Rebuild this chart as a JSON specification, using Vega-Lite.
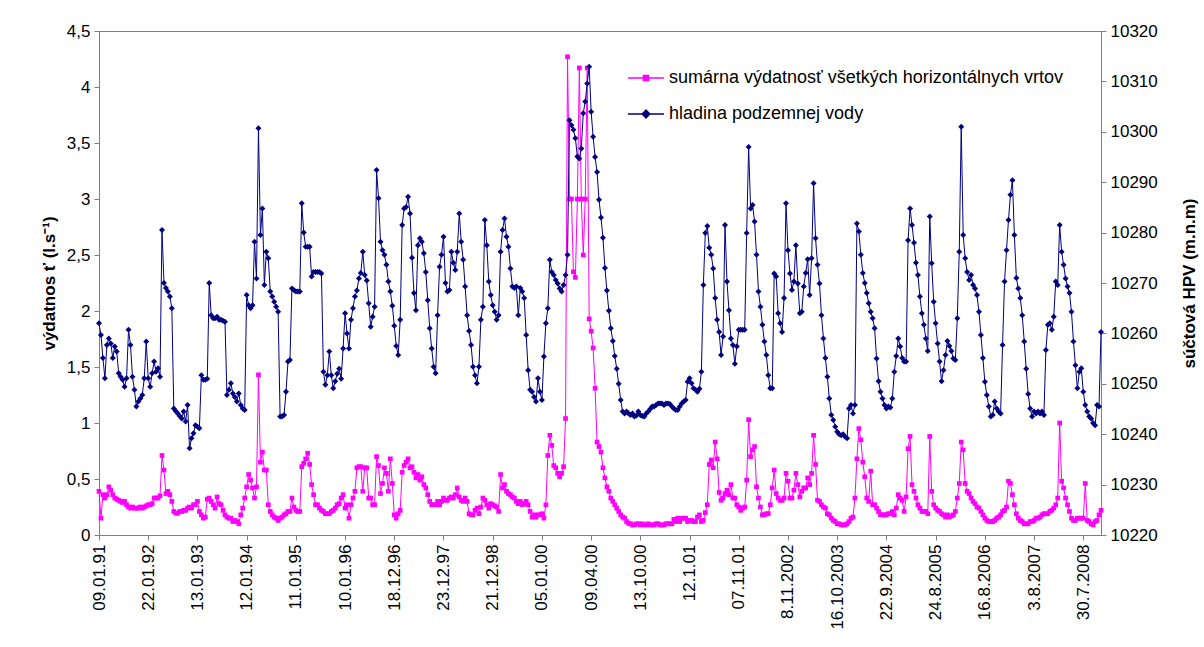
{
"$schema":"https://vega.github.io/schema/vega-lite/v6.json",
"width":1002,"height":504,
"autosize":{"type":"none"},
"padding":{"left":99,"top":31,"right":103,"bottom":112},
"background":"white",
"config":{"view":{"stroke":"#808080","strokeWidth":1},"font":"Liberation Sans",
"axis":{"grid":false,"domainColor":"#808080","tickColor":"#808080","labelColor":"#000","labelFont":"Liberation Sans","labelFontSize":17,"titleFont":"Liberation Sans","titleFontSize":17,"titleFontWeight":"bold","titleColor":"#000","tickSize":5}},
"data":{"values":[
{"i":0,"q":0.39,"h":10262},{"i":1,"q":0.15,"h":10259.7},{"i":2,"q":0.36,"h":10255.1},{"i":3,"q":0.33,"h":10251.1},{"i":4,"q":0.36,"h":10257.7},{"i":5,"q":0.43,"h":10259},{"i":6,"q":0.4,"h":10258},{"i":7,"q":0.36,"h":10255.1},{"i":8,"q":0.33,"h":10257.4},{"i":9,"q":0.32,"h":10256.4},
{"i":10,"q":0.31,"h":10252.1},{"i":11,"q":0.3,"h":10251.4},{"i":12,"q":0.29,"h":10250.8},{"i":13,"q":0.3,"h":10249.4},{"i":14,"q":0.27,"h":10251.1},{"i":15,"q":0.25,"h":10260.7},{"i":16,"q":0.24,"h":10257.7},{"i":17,"q":0.25,"h":10251.4},{"i":18,"q":0.24,"h":10248.8},{"i":19,"q":0.24,"h":10245.5},
{"i":20,"q":0.24,"h":10246.5},{"i":21,"q":0.25,"h":10247.1},{"i":22,"q":0.24,"h":10247.8},{"i":23,"q":0.25,"h":10251.1},{"i":24,"q":0.26,"h":10258.4},{"i":25,"q":0.27,"h":10251.1},{"i":26,"q":0.27,"h":10249.4},{"i":27,"q":0.28,"h":10252.1},{"i":28,"q":0.33,"h":10254.4},{"i":29,"q":0.33,"h":10252.4},
{"i":30,"q":0.33,"h":10253.1},{"i":31,"q":0.35,"h":10251.4},{"i":32,"q":0.71,"h":10280.5},{"i":33,"q":0.58,"h":10270},{"i":34,"q":0.37,"h":10269},{"i":35,"q":0.39,"h":10268.3},{"i":36,"q":0.36,"h":10267.3},{"i":37,"q":0.3,"h":10265},{"i":38,"q":0.21,"h":10245.1},{"i":39,"q":0.195,"h":10244.6},
{"i":40,"q":0.195,"h":10244.1},{"i":41,"q":0.21,"h":10243.6},{"i":42,"q":0.21,"h":10243.1},{"i":43,"q":0.22,"h":10244.5},{"i":44,"q":0.22,"h":10242.5},{"i":45,"q":0.24,"h":10245.8},{"i":46,"q":0.25,"h":10237.2},{"i":47,"q":0.24,"h":10239.2},{"i":48,"q":0.27,"h":10240.2},{"i":49,"q":0.27,"h":10241.8},
{"i":50,"q":0.3,"h":10241.5},{"i":51,"q":0.21,"h":10241.2},{"i":52,"q":0.18,"h":10251.7},{"i":53,"q":0.15,"h":10250.8},{"i":54,"q":0.16,"h":10250.8},{"i":55,"q":0.32,"h":10251},{"i":56,"q":0.33,"h":10270},{"i":57,"q":0.3,"h":10263.6},{"i":58,"q":0.27,"h":10263},{"i":59,"q":0.24,"h":10263},
{"i":60,"q":0.34,"h":10263.3},{"i":61,"q":0.28,"h":10262.7},{"i":62,"q":0.27,"h":10262.7},{"i":63,"q":0.22,"h":10262.5},{"i":64,"q":0.18,"h":10262.3},{"i":65,"q":0.16,"h":10247.8},{"i":66,"q":0.15,"h":10248.8},{"i":67,"q":0.15,"h":10250.1},{"i":68,"q":0.12,"h":10248.1},{"i":69,"q":0.13,"h":10247.4},
{"i":70,"q":0.12,"h":10246.5},{"i":71,"q":0.1,"h":10248.1},{"i":72,"q":0.18,"h":10245.8},{"i":73,"q":0.24,"h":10245.1},{"i":74,"q":0.33,"h":10244.8},{"i":75,"q":0.43,"h":10267.6},{"i":76,"q":0.54,"h":10265.6},{"i":77,"q":0.49,"h":10265},{"i":78,"q":0.42,"h":10265.6},{"i":79,"q":0.33,"h":10278.2},
{"i":80,"q":0.43,"h":10270.9},{"i":81,"q":1.43,"h":10300.7},{"i":82,"q":0.65,"h":10279.5},{"i":83,"q":0.74,"h":10284.8},{"i":84,"q":0.58,"h":10269.6},{"i":85,"q":0.58,"h":10276.2},{"i":86,"q":0.27,"h":10274.9},{"i":87,"q":0.21,"h":10268.3},{"i":88,"q":0.18,"h":10267.3},{"i":89,"q":0.16,"h":10266.3},
{"i":90,"q":0.15,"h":10265.3},{"i":91,"q":0.13,"h":10264.3},{"i":92,"q":0.15,"h":10243.5},{"i":93,"q":0.16,"h":10243.5},{"i":94,"q":0.18,"h":10243.8},{"i":95,"q":0.19,"h":10248.4},{"i":96,"q":0.21,"h":10254.4},{"i":97,"q":0.21,"h":10254.7},{"i":98,"q":0.33,"h":10268.9},{"i":99,"q":0.25,"h":10268.6},
{"i":100,"q":0.22,"h":10268.3},{"i":101,"q":0.21,"h":10268.3},{"i":102,"q":0.21,"h":10268.3},{"i":103,"q":0.61,"h":10285.8},{"i":104,"q":0.64,"h":10280},{"i":105,"q":0.68,"h":10277.2},{"i":106,"q":0.73,"h":10277.2},{"i":107,"q":0.63,"h":10277.2},{"i":108,"q":0.45,"h":10271.3},{"i":109,"q":0.36,"h":10272.2},
{"i":110,"q":0.27,"h":10272.2},{"i":111,"q":0.27,"h":10272.2},{"i":112,"q":0.24,"h":10272.2},{"i":113,"q":0.22,"h":10271.9},{"i":114,"q":0.21,"h":10252.4},{"i":115,"q":0.19,"h":10249.8},{"i":116,"q":0.19,"h":10251.7},{"i":117,"q":0.19,"h":10256.4},{"i":118,"q":0.21,"h":10251.7},{"i":119,"q":0.22,"h":10249.1},
{"i":120,"q":0.24,"h":10250.5},{"i":121,"q":0.27,"h":10252},{"i":122,"q":0.28,"h":10253},{"i":123,"q":0.33,"h":10251},{"i":124,"q":0.36,"h":10257},{"i":125,"q":0.24,"h":10264},{"i":126,"q":0.27,"h":10260},{"i":127,"q":0.15,"h":10257},{"i":128,"q":0.27,"h":10262.7},{"i":129,"q":0.33,"h":10265},
{"i":130,"q":0.39,"h":10267.3},{"i":131,"q":0.6,"h":10268.5},{"i":132,"q":0.61,"h":10270.9},{"i":133,"q":0.61,"h":10272},{"i":134,"q":0.39,"h":10276.2},{"i":135,"q":0.6,"h":10271.6},{"i":136,"q":0.6,"h":10270.5},{"i":137,"q":0.33,"h":10266},{"i":138,"q":0.33,"h":10261.3},{"i":139,"q":0.27,"h":10263.3},
{"i":140,"q":0.27,"h":10265.3},{"i":141,"q":0.7,"h":10292.4},{"i":142,"q":0.62,"h":10286.8},{"i":143,"q":0.37,"h":10278.2},{"i":144,"q":0.46,"h":10276.5},{"i":145,"q":0.6,"h":10275.6},{"i":146,"q":0.55,"h":10273.6},{"i":147,"q":0.39,"h":10270.3},{"i":148,"q":0.68,"h":10268.3},{"i":149,"q":0.46,"h":10265.5},
{"i":150,"q":0.18,"h":10261.5},{"i":151,"q":0.15,"h":10257.5},{"i":152,"q":0.19,"h":10255.7},{"i":153,"q":0.22,"h":10262.7},{"i":154,"q":0.56,"h":10281.5},{"i":155,"q":0.62,"h":10284.8},{"i":156,"q":0.65,"h":10285.1},{"i":157,"q":0.68,"h":10287.1},{"i":158,"q":0.6,"h":10283.8},{"i":159,"q":0.61,"h":10275},
{"i":160,"q":0.56,"h":10268},{"i":161,"q":0.51,"h":10264.6},{"i":162,"q":0.54,"h":10277.5},{"i":163,"q":0.49,"h":10278.9},{"i":164,"q":0.52,"h":10278.2},{"i":165,"q":0.45,"h":10275.9},{"i":166,"q":0.42,"h":10272.2},{"i":167,"q":0.36,"h":10266.6},{"i":168,"q":0.3,"h":10261},{"i":169,"q":0.27,"h":10257},
{"i":170,"q":0.27,"h":10253.4},{"i":171,"q":0.27,"h":10252.1},{"i":172,"q":0.3,"h":10263.6},{"i":173,"q":0.27,"h":10273.2},{"i":174,"q":0.3,"h":10275.6},{"i":175,"q":0.33,"h":10279.2},{"i":176,"q":0.31,"h":10270},{"i":177,"q":0.31,"h":10268.3},{"i":178,"q":0.33,"h":10268.6},{"i":179,"q":0.34,"h":10276.2},
{"i":180,"q":0.33,"h":10274},{"i":181,"q":0.36,"h":10272.6},{"i":182,"q":0.42,"h":10276.2},{"i":183,"q":0.34,"h":10283.8},{"i":184,"q":0.31,"h":10278.2},{"i":185,"q":0.3,"h":10274.6},{"i":186,"q":0.33,"h":10269.3},{"i":187,"q":0.3,"h":10263.6},{"i":188,"q":0.19,"h":10260.5},{"i":189,"q":0.18,"h":10257.7},
{"i":190,"q":0.18,"h":10253.4},{"i":191,"q":0.22,"h":10251.7},{"i":192,"q":0.24,"h":10250.1},{"i":193,"q":0.19,"h":10253.4},{"i":194,"q":0.25,"h":10262.7},{"i":195,"q":0.33,"h":10265.3},{"i":196,"q":0.31,"h":10282.5},{"i":197,"q":0.27,"h":10277.5},{"i":198,"q":0.24,"h":10270.3},{"i":199,"q":0.28,"h":10267.6},
{"i":200,"q":0.27,"h":10265.6},{"i":201,"q":0.26,"h":10264.3},{"i":202,"q":0.25,"h":10262.7},{"i":203,"q":0.21,"h":10263.6},{"i":204,"q":0.54,"h":10276.2},{"i":205,"q":0.42,"h":10280.5},{"i":206,"q":0.45,"h":10282.8},{"i":207,"q":0.39,"h":10279.2},{"i":208,"q":0.37,"h":10277.2},{"i":209,"q":0.36,"h":10272.9},
{"i":210,"q":0.34,"h":10269.3},{"i":211,"q":0.33,"h":10269},{"i":212,"q":0.3,"h":10269.3},{"i":213,"q":0.28,"h":10263.6},{"i":214,"q":0.3,"h":10269},{"i":215,"q":0.27,"h":10268.3},{"i":216,"q":0.28,"h":10267},{"i":217,"q":0.3,"h":10259.7},{"i":218,"q":0.27,"h":10252.7},{"i":219,"q":0.21,"h":10248.8},
{"i":220,"q":0.16,"h":10248.4},{"i":221,"q":0.18,"h":10247.4},{"i":222,"q":0.16,"h":10246.5},{"i":223,"q":0.18,"h":10251.1},{"i":224,"q":0.18,"h":10248.4},{"i":225,"q":0.19,"h":10246.8},{"i":226,"q":0.15,"h":10255.4},{"i":227,"q":0.27,"h":10262},{"i":228,"q":0.71,"h":10265},{"i":229,"q":0.89,"h":10274.6},
{"i":230,"q":0.8,"h":10272.2},{"i":231,"q":0.62,"h":10271.6},{"i":232,"q":0.6,"h":10270.6},{"i":233,"q":0.55,"h":10269.9},{"i":234,"q":0.52,"h":10268.9},{"i":235,"q":0.55,"h":10268.3},{"i":236,"q":0.61,"h":10269.6},{"i":237,"q":1.04,"h":10271.6},{"i":238,"q":4.27,"h":10275.6},{"i":239,"q":3.0,"h":10302.3},
{"i":240,"q":3.0,"h":10301.3},{"i":241,"q":2.35,"h":10300.4},{"i":242,"q":2.3,"h":10298.7},{"i":243,"q":3.0,"h":10295.1},{"i":244,"q":4.17,"h":10294.7},{"i":245,"q":3.0,"h":10296.7},{"i":246,"q":2.5,"h":10303.7},{"i":247,"q":3.0,"h":10306},{"i":248,"q":4.17,"h":10309.6},{"i":249,"q":1.93,"h":10312.9},
{"i":250,"q":1.82,"h":10304},{"i":251,"q":1.67,"h":10299},{"i":252,"q":1.31,"h":10295},{"i":253,"q":0.83,"h":10292},{"i":254,"q":0.79,"h":10286.5},{"i":255,"q":0.74,"h":10283},{"i":256,"q":0.6,"h":10279},{"i":257,"q":0.51,"h":10273},{"i":258,"q":0.43,"h":10268.5},{"i":259,"q":0.39,"h":10264.5},
{"i":260,"q":0.33,"h":10261},{"i":261,"q":0.3,"h":10258.5},{"i":262,"q":0.27,"h":10255.5},{"i":263,"q":0.24,"h":10253},{"i":264,"q":0.21,"h":10250},{"i":265,"q":0.18,"h":10246.8},{"i":266,"q":0.16,"h":10244.5},{"i":267,"q":0.15,"h":10244.1},{"i":268,"q":0.12,"h":10244.5},{"i":269,"q":0.105,"h":10244.1},
{"i":270,"q":0.1,"h":10243.8},{"i":271,"q":0.09,"h":10244.1},{"i":272,"q":0.09,"h":10243.5},{"i":273,"q":0.1,"h":10243.7},{"i":274,"q":0.1,"h":10244.5},{"i":275,"q":0.09,"h":10243.8},{"i":276,"q":0.1,"h":10243.6},{"i":277,"q":0.09,"h":10243.5},{"i":278,"q":0.09,"h":10244.1},{"i":279,"q":0.1,"h":10244.5},
{"i":280,"q":0.09,"h":10245},{"i":281,"q":0.09,"h":10245.5},{"i":282,"q":0.09,"h":10245.5},{"i":283,"q":0.1,"h":10245.8},{"i":284,"q":0.1,"h":10246.1},{"i":285,"q":0.09,"h":10246.1},{"i":286,"q":0.09,"h":10246.1},{"i":287,"q":0.09,"h":10245.8},{"i":288,"q":0.1,"h":10246.1},{"i":289,"q":0.1,"h":10246.1},
{"i":290,"q":0.1,"h":10246},{"i":291,"q":0.1,"h":10245.5},{"i":292,"q":0.14,"h":10245.1},{"i":293,"q":0.12,"h":10244.8},{"i":294,"q":0.15,"h":10244.8},{"i":295,"q":0.12,"h":10245.5},{"i":296,"q":0.15,"h":10246.1},{"i":297,"q":0.15,"h":10246.5},{"i":298,"q":0.15,"h":10246.8},{"i":299,"q":0.12,"h":10250.4},
{"i":300,"q":0.13,"h":10251.1},{"i":301,"q":0.13,"h":10250.1},{"i":302,"q":0.12,"h":10249.1},{"i":303,"q":0.12,"h":10248.8},{"i":304,"q":0.16,"h":10248.4},{"i":305,"q":0.18,"h":10249},{"i":306,"q":0.12,"h":10252.4},{"i":307,"q":0.13,"h":10269.6},{"i":308,"q":0.2,"h":10279.9},{"i":309,"q":0.27,"h":10281.3},
{"i":310,"q":0.63,"h":10277},{"i":311,"q":0.67,"h":10275.6},{"i":312,"q":0.6,"h":10272.9},{"i":313,"q":0.83,"h":10267},{"i":314,"q":0.68,"h":10262.7},{"i":315,"q":0.38,"h":10260.3},{"i":316,"q":0.31,"h":10255.7},{"i":317,"q":0.33,"h":10259.4},{"i":318,"q":0.37,"h":10281.5},{"i":319,"q":0.4,"h":10270.3},
{"i":320,"q":0.36,"h":10264.6},{"i":321,"q":0.45,"h":10259},{"i":322,"q":0.33,"h":10257.7},{"i":323,"q":0.33,"h":10254},{"i":324,"q":0.27,"h":10257.4},{"i":325,"q":0.25,"h":10260.7},{"i":326,"q":0.22,"h":10260.7},{"i":327,"q":0.24,"h":10260.7},{"i":328,"q":0.25,"h":10260.7},{"i":329,"q":0.49,"h":10279.9},
{"i":330,"q":1.03,"h":10297},{"i":331,"q":0.7,"h":10284.8},{"i":332,"q":0.76,"h":10285.5},{"i":333,"q":0.79,"h":10282.2},{"i":334,"q":0.43,"h":10275.6},{"i":335,"q":0.33,"h":10268.3},{"i":336,"q":0.25,"h":10265.3},{"i":337,"q":0.18,"h":10261.7},{"i":338,"q":0.18,"h":10258.4},{"i":339,"q":0.19,"h":10255.7},
{"i":340,"q":0.19,"h":10251.7},{"i":341,"q":0.27,"h":10249.1},{"i":342,"q":0.42,"h":10249.1},{"i":343,"q":0.58,"h":10271.9},{"i":344,"q":0.37,"h":10271.3},{"i":345,"q":0.33,"h":10264},{"i":346,"q":0.31,"h":10262},{"i":347,"q":0.31,"h":10260.3},{"i":348,"q":0.33,"h":10267},{"i":349,"q":0.55,"h":10285.8},
{"i":350,"q":0.48,"h":10276.5},{"i":351,"q":0.33,"h":10271.9},{"i":352,"q":0.33,"h":10268.6},{"i":353,"q":0.4,"h":10270.3},{"i":354,"q":0.55,"h":10277.5},{"i":355,"q":0.45,"h":10269.9},{"i":356,"q":0.34,"h":10264},{"i":357,"q":0.39,"h":10264.3},{"i":358,"q":0.42,"h":10269.3},{"i":359,"q":0.42,"h":10272},
{"i":360,"q":0.51,"h":10274.7},{"i":361,"q":0.45,"h":10267.6},{"i":362,"q":0.55,"h":10274.9},{"i":363,"q":0.89,"h":10289.8},{"i":364,"q":0.63,"h":10278.9},{"i":365,"q":0.31,"h":10273.6},{"i":366,"q":0.3,"h":10269.9},{"i":367,"q":0.27,"h":10263.6},{"i":368,"q":0.25,"h":10259},{"i":369,"q":0.24,"h":10255.1},
{"i":370,"q":0.19,"h":10251.4},{"i":371,"q":0.18,"h":10247.1},{"i":372,"q":0.15,"h":10243.8},{"i":373,"q":0.13,"h":10242.8},{"i":374,"q":0.12,"h":10241.5},{"i":375,"q":0.1,"h":10240.5},{"i":376,"q":0.1,"h":10240},{"i":377,"q":0.09,"h":10239.8},{"i":378,"q":0.09,"h":10240},{"i":379,"q":0.09,"h":10239.5},
{"i":380,"q":0.1,"h":10239.2},{"i":381,"q":0.12,"h":10245.1},{"i":382,"q":0.15,"h":10245.8},{"i":383,"q":0.16,"h":10244.1},{"i":384,"q":0.33,"h":10245.8},{"i":385,"q":0.68,"h":10281.8},{"i":386,"q":0.95,"h":10280.2},{"i":387,"q":0.85,"h":10275.6},{"i":388,"q":0.65,"h":10272},{"i":389,"q":0.52,"h":10270},
{"i":390,"q":0.33,"h":10268},{"i":391,"q":0.3,"h":10266},{"i":392,"q":0.57,"h":10264.3},{"i":393,"q":0.27,"h":10263},{"i":394,"q":0.27,"h":10261},{"i":395,"q":0.24,"h":10255},{"i":396,"q":0.21,"h":10250.5},{"i":397,"q":0.18,"h":10248.4},{"i":398,"q":0.18,"h":10247.1},{"i":399,"q":0.18,"h":10245.8},
{"i":400,"q":0.18,"h":10245.1},{"i":401,"q":0.19,"h":10245.5},{"i":402,"q":0.19,"h":10245.3},{"i":403,"q":0.21,"h":10247.1},{"i":404,"q":0.18,"h":10252.4},{"i":405,"q":0.24,"h":10255.5},{"i":406,"q":0.36,"h":10259},{"i":407,"q":0.33,"h":10257.4},{"i":408,"q":0.31,"h":10255.1},{"i":409,"q":0.21,"h":10254.4},
{"i":410,"q":0.34,"h":10254.4},{"i":411,"q":0.77,"h":10278.5},{"i":412,"q":0.88,"h":10284.8},{"i":413,"q":0.45,"h":10281.5},{"i":414,"q":0.39,"h":10278},{"i":415,"q":0.33,"h":10274},{"i":416,"q":0.27,"h":10271.6},{"i":417,"q":0.24,"h":10267.3},{"i":418,"q":0.21,"h":10264},{"i":419,"q":0.21,"h":10261.7},
{"i":420,"q":0.21,"h":10259},{"i":421,"q":0.19,"h":10256.5},{"i":422,"q":0.88,"h":10283.2},{"i":423,"q":0.39,"h":10273.9},{"i":424,"q":0.27,"h":10266.3},{"i":425,"q":0.24,"h":10262},{"i":426,"q":0.22,"h":10258},{"i":427,"q":0.21,"h":10254.4},{"i":428,"q":0.19,"h":10250.5},{"i":429,"q":0.18,"h":10252.7},
{"i":430,"q":0.16,"h":10255.7},{"i":431,"q":0.18,"h":10258.5},{"i":432,"q":0.16,"h":10257.5},{"i":433,"q":0.17,"h":10256.5},{"i":434,"q":0.18,"h":10255},{"i":435,"q":0.21,"h":10254.7},{"i":436,"q":0.33,"h":10263},{"i":437,"q":0.46,"h":10276.2},{"i":438,"q":0.83,"h":10301},{"i":439,"q":0.76,"h":10279.5},
{"i":440,"q":0.46,"h":10274.9},{"i":441,"q":0.39,"h":10272.2},{"i":442,"q":0.37,"h":10270.6},{"i":443,"q":0.33,"h":10271.6},{"i":444,"q":0.3,"h":10269.6},{"i":445,"q":0.28,"h":10268.9},{"i":446,"q":0.25,"h":10267.6},{"i":447,"q":0.24,"h":10264.3},{"i":448,"q":0.21,"h":10259.7},{"i":449,"q":0.18,"h":10255.1},
{"i":450,"q":0.15,"h":10250.4},{"i":451,"q":0.13,"h":10247.8},{"i":452,"q":0.12,"h":10245.5},{"i":453,"q":0.12,"h":10243.5},{"i":454,"q":0.12,"h":10243.8},{"i":455,"q":0.13,"h":10246.5},{"i":456,"q":0.15,"h":10245.1},{"i":457,"q":0.16,"h":10244.5},{"i":458,"q":0.18,"h":10244.1},{"i":459,"q":0.21,"h":10257.7},
{"i":460,"q":0.22,"h":10270.3},{"i":461,"q":0.25,"h":10276.5},{"i":462,"q":0.48,"h":10282.5},{"i":463,"q":0.46,"h":10287.5},{"i":464,"q":0.36,"h":10290.4},{"i":465,"q":0.27,"h":10279.5},{"i":466,"q":0.19,"h":10271},{"i":467,"q":0.15,"h":10268.9},{"i":468,"q":0.13,"h":10267},{"i":469,"q":0.12,"h":10263.6},
{"i":470,"q":0.1,"h":10258.4},{"i":471,"q":0.1,"h":10253},{"i":472,"q":0.1,"h":10248},{"i":473,"q":0.12,"h":10245.1},{"i":474,"q":0.12,"h":10243.5},{"i":475,"q":0.13,"h":10244.5},{"i":476,"q":0.15,"h":10244.1},{"i":477,"q":0.15,"h":10244.5},{"i":478,"q":0.16,"h":10244.1},{"i":479,"q":0.18,"h":10244.5},
{"i":480,"q":0.19,"h":10243.8},{"i":481,"q":0.19,"h":10256.7},{"i":482,"q":0.19,"h":10261.7},{"i":483,"q":0.21,"h":10262},{"i":484,"q":0.22,"h":10260.7},{"i":485,"q":0.24,"h":10263.3},{"i":486,"q":0.27,"h":10270.3},{"i":487,"q":0.33,"h":10269.6},{"i":488,"q":1.0,"h":10281.5},{"i":489,"q":0.48,"h":10276.2},
{"i":490,"q":0.42,"h":10273.6},{"i":491,"q":0.33,"h":10270.9},{"i":492,"q":0.27,"h":10269.3},{"i":493,"q":0.21,"h":10268},{"i":494,"q":0.15,"h":10264.3},{"i":495,"q":0.13,"h":10258.4},{"i":496,"q":0.13,"h":10253.7},{"i":497,"q":0.15,"h":10249.1},{"i":498,"q":0.15,"h":10252.4},{"i":499,"q":0.15,"h":10253.1},
{"i":500,"q":0.15,"h":10248.4},{"i":501,"q":0.46,"h":10245.8},{"i":502,"q":0.13,"h":10244.5},{"i":503,"q":0.12,"h":10243.5},{"i":504,"q":0.1,"h":10243.1},{"i":505,"q":0.09,"h":10242.2},{"i":506,"q":0.12,"h":10241.8},{"i":507,"q":0.13,"h":10245.8},{"i":508,"q":0.18,"h":10245.5},{"i":509,"q":0.22,"h":10260.3}
]},
"encoding":{"x":{"field":"i","type":"quantitative","scale":{"domain":[0,509],"nice":false,"zero":false},
"axis":{"title":null,"values":[0,25,50,75,100,125,150,175,200,225,250,275,300,325,350,375,400,425,450,475,500],"labelAngle":-90,"labelPadding":4,"labelOverlap":false,"labelFlush":false,"labelFontSize":17,
"labelExpr":"['09.01.91','22.01.92','13.01.93','12.01.94','11.01.95','10.01.96','18.12.96','23.12.97','21.12.98','05.01.00','09.04.00','13.10.00','12.1.01','07.11.01','8.11.2002','16.10.2003','22.9.2004','24.8.2005','16.8.2006','3.8.2007','30.7.2008'][round(datum.value/25)]"}}},
"layer":[
{"mark":{"type":"line","strokeWidth":1,"point":{"shape":"square","size":22,"filled":true}},
"encoding":{"y":{"field":"q","type":"quantitative","scale":{"domain":[0,4.5],"nice":false,"zero":true},
"axis":{"orient":"left","values":[0,0.5,1,1.5,2,2.5,3,3.5,4,4.5],"labelExpr":"replace(toString(datum.value),'.',',')","title":"výdatnos ť (l.s⁻¹)","titlePadding":8,"labelPadding":4}},
"color":{"datum":"sumárna výdatnosť všetkých horizontálnych vrtov","type":"nominal",
"scale":{"domain":["sumárna výdatnosť všetkých horizontálnych vrtov","hladina podzemnej vody"],"range":["#ff00ff","#000080"]},
"legend":{"orient":"none","legendX":528,"legendY":28,"title":null,"padding":0,"labelFont":"Liberation Sans","labelFontSize":18,"labelColor":"#000","labelLimit":600,"labelOffset":4,"symbolSize":1296,"symbolStrokeWidth":1.3,"rowPadding":8,
"encode":{"symbols":{"update":{"shape":{"signal":"datum.value === 'hladina podzemnej vody' ? 'M-1,0H1M0,-0.22L0.22,0L0,0.22L-0.22,0Z' : 'M-1,0H1M-0.15,-0.15H0.15V0.15H-0.15Z'"},"fill":{"scale":"color","field":"value"},"stroke":{"scale":"color","field":"value"}}}}}}}},
{"mark":{"type":"line","strokeWidth":1,"point":{"shape":"diamond","size":36,"filled":true}},
"encoding":{"y":{"field":"h","type":"quantitative","scale":{"domain":[10220,10320],"nice":false,"zero":false},
"axis":{"orient":"right","values":[10220,10230,10240,10250,10260,10270,10280,10290,10300,10310,10320],"format":"d","title":"súčtová HPV (m.n.m)","titleAngle":270,"titlePadding":41,"labelPadding":4}},
"color":{"datum":"hladina podzemnej vody","type":"nominal"}}}
],
"resolve":{"scale":{"y":"independent"}}
}
